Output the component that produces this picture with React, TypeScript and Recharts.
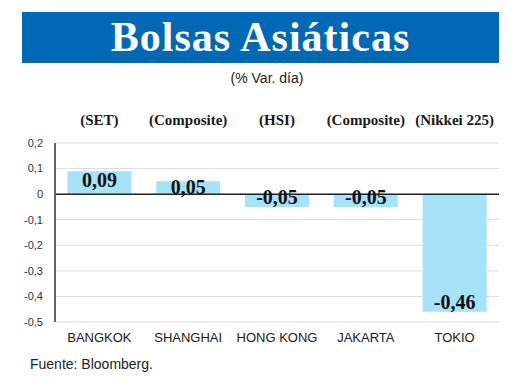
import { BarChart, Bar, XAxis, YAxis, CartesianGrid, ReferenceLine, LabelList } from 'recharts';

const cities = ['BANGKOK', 'SHANGHAI', 'HONG KONG', 'JAKARTA', 'TOKIO'];
const indices = ['(SET)', '(Composite)', '(HSI)', '(Composite)', '(Nikkei 225)'];
const changes = [0.09, 0.05, -0.05, -0.05, -0.46];
const yTicks = [0.2, 0.1, 0, -0.1, -0.2, -0.3, -0.4, -0.5];

const data = cities.map((city, i) => ({ city, index: indices[i], value: changes[i] }));

const fmt = (v: number) => String(v).replace('.', ',');

const serif = '"Liberation Serif", "DejaVu Serif", serif';
const sans = '"Liberation Sans", Arial, sans-serif';

// eslint-disable-next-line @typescript-eslint/no-explicit-any
const ValueLabel = (props: any) => {
    const { x, y, width, height, value } = props;
    const top = Math.min(y, y + height);
    const bottom = Math.max(y, y + height);
    const baseline = value >= 0 ? Math.min(top + 16, bottom) : bottom - 3;
    return (
        <text
            x={x + width / 2}
            y={baseline}
            textAnchor="middle"
            fontFamily={serif}
            fontWeight="bold"
            fontSize={20}
            fill="#111"
        >
            {fmt(value)}
        </text>
    );
};

export default function App() {
    return (
        <div style={{ position: 'absolute', left: 0, top: 0, width: 520, height: 390, background: '#fff' }}>
            <div
                style={{
                    position: 'absolute',
                    left: 22,
                    top: 12,
                    width: 477,
                    height: 51,
                    background: '#0068b4',
                    color: '#fff',
                    fontFamily: serif,
                    fontWeight: 'bold',
                    fontSize: 42,
                    letterSpacing: 1,
                    lineHeight: '51px',
                    textAlign: 'center',
                }}
            >
                Bolsas Asiáticas
            </div>
            <div
                style={{
                    position: 'absolute',
                    left: 0,
                    top: 70,
                    width: 534,
                    textAlign: 'center',
                    fontFamily: sans,
                    fontSize: 14,
                    color: '#222',
                }}
            >
                (% Var. día)
            </div>
            <BarChart
                width={520}
                height={390}
                data={data}
                margin={{ top: 123, right: 21, bottom: 38, left: 0 }}
                barCategoryGap="14%"
                style={{ position: 'absolute', left: 0, top: 0 }}
            >
                <CartesianGrid vertical={false} stroke="#dcdcdc" strokeWidth={1} />
                <XAxis
                    dataKey="city"
                    axisLine={false}
                    tickLine={false}
                    height={30}
                    interval={0}
                    tick={{ fontFamily: sans, fontSize: 13, fill: '#1a1a1a' }}
                    tickMargin={5}
                />
                <XAxis
                    dataKey="index"
                    xAxisId="top"
                    orientation="top"
                    axisLine={false}
                    tickLine={false}
                    height={20}
                    interval={0}
                    tick={{ fontFamily: serif, fontSize: 15, fill: '#1a1a1a', fontWeight: 'bold' }}
                    tickMargin={12}
                />
                <YAxis
                    width={55}
                    domain={[-0.5, 0.2]}
                    ticks={yTicks}
                    tickFormatter={fmt}
                    axisLine={{ stroke: '#666', strokeWidth: 2 }}
                    tickLine={false}
                    tick={{ fontFamily: sans, fontSize: 11, fill: '#333' }}
                    tickMargin={6}
                />
                <ReferenceLine y={0} stroke="#222" strokeWidth={1.5} />
                <Bar dataKey="value" fill="#a6e2f8" isAnimationActive={false}>
                    <LabelList dataKey="value" content={<ValueLabel />} />
                </Bar>
            </BarChart>
            <div
                style={{
                    position: 'absolute',
                    left: 30,
                    top: 356,
                    fontFamily: sans,
                    fontSize: 14,
                    color: '#222',
                }}
            >
                Fuente: Bloomberg.
            </div>
        </div>
    );
}
